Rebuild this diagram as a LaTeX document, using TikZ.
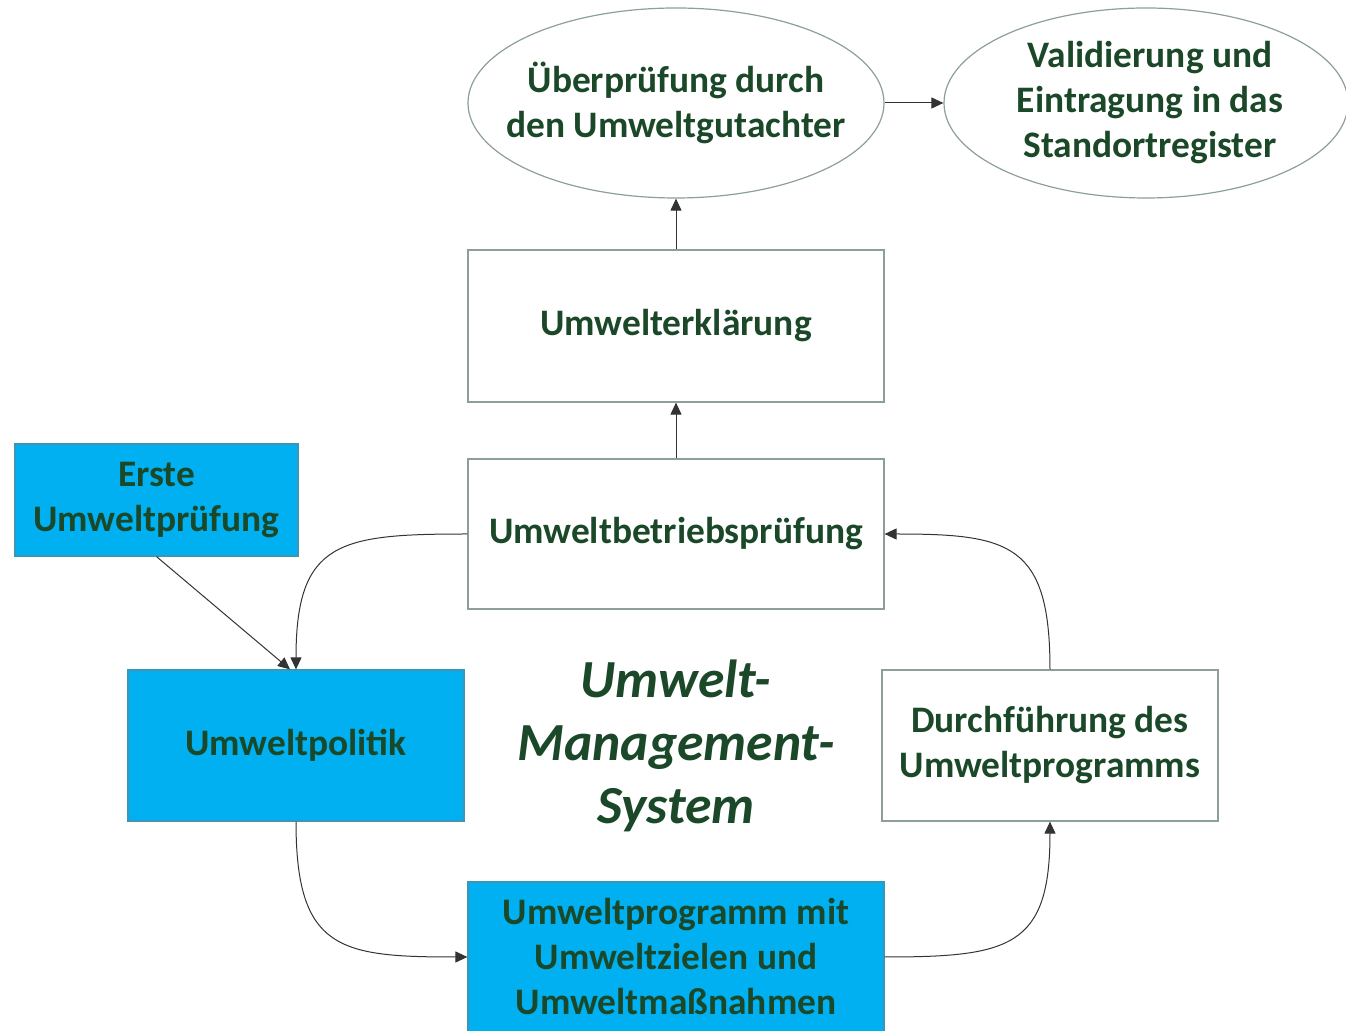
\documentclass[tikz,border=0pt]{standalone}
\usepackage{fontspec}
\setmainfont{Carlito}
\usetikzlibrary{shapes.geometric,arrows.meta}
\definecolor{txtgreen}{RGB}{26,72,40}
\definecolor{boxline}{RGB}{140,160,150}
\definecolor{cyanfill}{RGB}{0,176,240}
\definecolor{cyanline}{RGB}{60,150,180}
\tikzset{
  lbl/.style={font=\fontsize{18.7}{22.5}\selectfont\bfseries, text=txtgreen, align=center},
  whitebox/.style={lbl, rectangle, draw=boxline, line width=0.6pt, fill=white, inner sep=0pt},
  bluebox/.style={lbl, rectangle, draw=cyanline, line width=0.6pt, fill=cyanfill, inner sep=0pt},
  oval/.style={ellipse, draw=boxline, line width=0.6pt, inner sep=0pt},
  conn/.style={draw=black!80, line width=0.5pt, -{Triangle[length=6pt,width=5.5pt]}},
}
\begin{document}
\begin{tikzpicture}[x=0.5pt,y=-0.5pt]
\useasboundingbox (0,0) rectangle (1346,1031);
\node[oval, minimum width=208pt, minimum height=95pt] (ov1) at (676,103) {};
\node[lbl] (ov1t) at (ov1.center) {Überprüfung durch\\den Umweltgutachter};
\node[oval, minimum width=202pt, minimum height=95pt] (ov2) at (1146,103) {};
\node[lbl] (ov2t) at (1150,103) {Validierung und\\Eintragung in das\\Standortregister};
\node[whitebox, minimum width=208pt, minimum height=76pt] (erk) at (676,326) {Umwelterklärung};
\node[whitebox, minimum width=208pt, minimum height=75pt] (bp) at (676,534) {Umweltbetriebsprüfung};
\node[bluebox, minimum width=141.5pt, minimum height=56pt] (erste) at (156.5,500) {Erste\\Umweltprüfung};
\node[bluebox, minimum width=168pt, minimum height=75.5pt] (pol) at (296,745.5) {Umweltpolitik};
\node[whitebox, minimum width=168pt, minimum height=75.5pt] (durch) at (1050,745.5) {Durchführung des\\Umweltprogramms};
\node[bluebox, minimum width=208pt, minimum height=75pt] (prog) at (676,957) {Umweltprogramm mit\\Umweltzielen und\\Umweltmaßnahmen};
\node[lbl, font=\fontsize{26.8}{31.5}\selectfont\bfseries\itshape] (ums) at (676,746) {Umwelt-\\Management-\\System};

\draw[conn] (ov1.east) -- (ov2.west);
\draw[conn] (erk.north) -- (ov1.south);
\draw[conn] (bp.north) -- (erk.south);
\draw[conn] (erste.south) -- ([xshift=-3pt]pol.north);
\draw[conn] (bp.west) to[out=180,in=90,looseness=1.5] (pol.north);
\draw[conn] (pol.south) to[out=-90,in=180,looseness=1.5] (prog.west);
\draw[conn] (prog.east) to[out=0,in=-90,looseness=1.5] (durch.south);
\draw[conn] (durch.north) to[out=90,in=0,looseness=1.5] (bp.east);
\end{tikzpicture}
\end{document}
